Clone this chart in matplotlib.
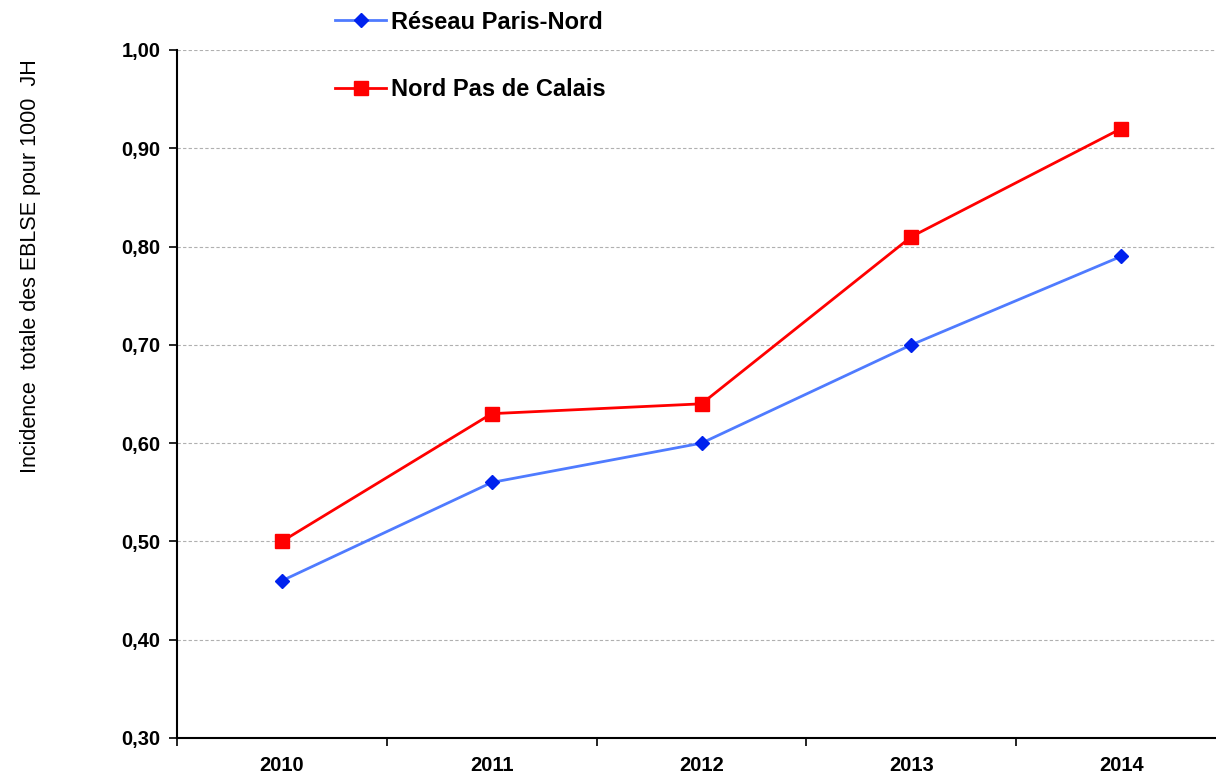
import matplotlib
matplotlib.use("Agg")
import matplotlib.pyplot as plt
from matplotlib.ticker import FixedLocator, NullFormatter

years = ["2010", "2011", "2012", "2013", "2014"]
paris_nord = [0.46, 0.56, 0.60, 0.70, 0.79]
npdc = [0.50, 0.63, 0.64, 0.81, 0.92]
y_ticks = [0.3, 0.4, 0.5, 0.6, 0.7, 0.8, 0.9, 1.0]
y_labels = ["0,30", "0,40", "0,50", "0,60", "0,70", "0,80", "0,90", "1,00"]
ylabel = "Incidence  totale des EBLSE pour 1000  JH"
label_blue = "Réseau Paris-Nord"
label_red = "Nord Pas de Calais"

plt.rcParams['font.family'] = ['Liberation Sans', 'DejaVu Sans']

W, H = 1216, 773
fig = plt.figure(figsize=(W / 100, H / 100), dpi=100)
ax = fig.add_axes([177 / W, (H - 738) / H, (1226 - 177) / W, (738 - 50) / H])

x = list(range(len(years)))
l1, = ax.plot(x, paris_nord, color="#4F7BFF", lw=2, marker="D", markersize=7,
              markerfacecolor="#0022EE", markeredgecolor="#0022EE", label=label_blue, zorder=3)
l2, = ax.plot(x, npdc, color="#FF0000", lw=2, marker="s", markersize=10,
              markerfacecolor="#FF0000", markeredgecolor="#FF0000", label=label_red, zorder=3)

ax.set_xlim(-0.5, 4.5)
ax.set_ylim(0.3, 1.0)
ax.set_yticks(y_ticks)
ax.set_yticklabels(y_labels, fontsize=14.5, fontweight="bold")
ax.set_xticks(x)
ax.set_xticklabels(years, fontsize=14.5, fontweight="bold")
ax.tick_params(axis="x", which="major", length=0, pad=13)
ax.xaxis.set_minor_locator(FixedLocator([-0.5, 0.5, 1.5, 2.5, 3.5, 4.5]))
ax.xaxis.set_minor_formatter(NullFormatter())
ax.tick_params(axis="x", which="minor", length=6, width=1.2, direction="out")
ax.tick_params(axis="y", length=6, width=1.2, direction="out", pad=6)

for s in ["top", "right"]:
    ax.spines[s].set_visible(False)
for s in ["left", "bottom"]:
    ax.spines[s].set_linewidth(1.5)

ax.yaxis.grid(True, linestyle=(0, (3, 2)), color="#B0B0B0", lw=0.8)
ax.set_axisbelow(True)

fig.text(31 / W, 1 - 266 / H, ylabel, rotation=90, fontsize=15.5, ha="center", va="center")

leg = fig.legend(handles=[l1, l2], loc="upper left", bbox_to_anchor=(318 / W, 1 + 6 / H),
                 frameon=False, prop={"weight": "bold", "size": 17},
                 labelspacing=1.9, handlelength=2.2, handletextpad=0.2, borderpad=0.2)

fig.savefig("out.png", dpi=100)
